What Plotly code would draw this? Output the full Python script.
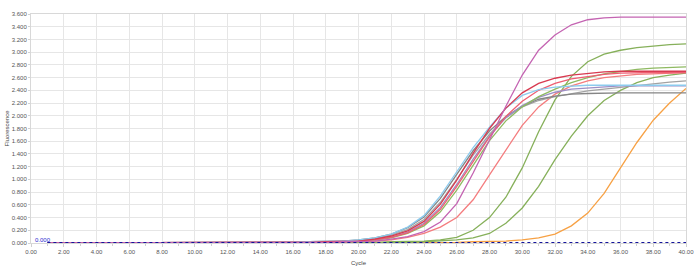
import plotly.graph_objects as go

cycles = list(range(1, 41))

light_blue = [0.00,0.00,0.00,0.00,0.00,0.00,0.00,0.00,0.00,0.00,
              0.00,0.00,0.01,0.01,0.01,0.01,0.02,0.02,0.03,0.05,
              0.08,0.14,0.25,0.43,0.74,1.12,1.50,1.82,2.12,2.32,
              2.41,2.45,2.47,2.48,2.48,2.48,2.48,2.48,2.48,2.48]
gray_dark = [0.00,0.00,0.00,0.00,0.00,0.00,0.00,0.00,0.00,0.00,
             0.00,0.00,0.01,0.01,0.01,0.01,0.02,0.02,0.03,0.05,
             0.08,0.14,0.24,0.41,0.70,1.08,1.45,1.76,1.99,2.15,
             2.26,2.31,2.34,2.35,2.36,2.36,2.36,2.36,2.36,2.36]
gray_light = [0.00,0.00,0.00,0.00,0.00,0.00,0.00,0.00,0.00,0.00,
              0.00,0.00,0.01,0.01,0.01,0.01,0.02,0.02,0.03,0.04,
              0.07,0.12,0.21,0.37,0.64,1.00,1.38,1.71,1.97,2.14,
              2.24,2.30,2.35,2.39,2.42,2.45,2.48,2.51,2.53,2.55]
lavender = [0.00,0.00,0.00,0.00,0.00,0.00,0.00,0.00,0.00,0.00,
            0.00,0.00,0.00,0.01,0.01,0.01,0.01,0.02,0.02,0.03,
            0.05,0.09,0.17,0.31,0.56,0.92,1.32,1.68,1.97,2.16,
            2.29,2.37,2.42,2.44,2.46,2.47,2.47,2.47,2.47,2.47]
crimson = [0.00,0.00,0.00,0.00,0.00,0.00,0.00,0.00,0.00,0.00,
           0.00,0.00,0.00,0.01,0.01,0.01,0.01,0.02,0.02,0.03,
           0.06,0.11,0.19,0.34,0.61,0.99,1.41,1.80,2.12,2.36,
           2.51,2.59,2.64,2.67,2.69,2.70,2.70,2.70,2.70,2.70]
pink_red = [0.00,0.00,0.00,0.00,0.00,0.00,0.00,0.00,0.00,0.00,
            0.00,0.00,0.00,0.01,0.01,0.01,0.01,0.01,0.02,0.03,
            0.05,0.09,0.16,0.29,0.53,0.89,1.29,1.67,1.99,2.23,
            2.40,2.51,2.58,2.62,2.65,2.67,2.68,2.68,2.68,2.68]
salmon = [0.00,0.00,0.00,0.00,0.00,0.00,0.00,0.00,0.00,0.00,
          0.00,0.00,0.00,0.00,0.01,0.01,0.01,0.01,0.02,0.02,
          0.03,0.05,0.09,0.15,0.25,0.40,0.68,1.07,1.46,1.85,
          2.14,2.34,2.47,2.55,2.60,2.63,2.65,2.66,2.67,2.68]
green_b = [0.00,0.00,0.00,0.00,0.00,0.00,0.00,0.00,0.00,0.00,
           0.00,0.00,0.00,0.01,0.01,0.01,0.01,0.01,0.02,0.03,
           0.05,0.08,0.15,0.27,0.49,0.83,1.23,1.61,1.92,2.14,
           2.30,2.42,2.52,2.60,2.66,2.70,2.73,2.75,2.76,2.77]
magenta = [0.00,0.00,0.00,0.00,0.00,0.00,0.00,0.00,0.00,0.00,
           0.00,0.00,0.00,0.00,0.01,0.01,0.01,0.01,0.02,0.02,
           0.03,0.06,0.10,0.18,0.33,0.62,1.10,1.62,2.15,2.64,
           3.03,3.27,3.43,3.51,3.54,3.55,3.55,3.55,3.55,3.55]
green_a = [0.00,0.00,0.00,0.00,0.00,0.00,0.00,0.00,0.00,0.00,
           0.00,0.00,0.00,0.00,0.00,0.00,0.01,0.01,0.01,0.01,
           0.01,0.02,0.02,0.03,0.05,0.09,0.20,0.40,0.72,1.18,
           1.75,2.25,2.62,2.85,2.97,3.03,3.07,3.10,3.12,3.13]
green_c = [0.00,0.00,0.00,0.00,0.00,0.00,0.00,0.00,0.00,0.00,
           0.00,0.00,0.00,0.00,0.00,0.00,0.00,0.01,0.01,0.01,
           0.01,0.01,0.01,0.02,0.03,0.05,0.08,0.15,0.31,0.55,
           0.89,1.31,1.68,2.00,2.24,2.40,2.52,2.60,2.64,2.67]
orange = [0.00,0.00,0.00,0.00,0.00,0.00,0.00,0.00,0.00,0.00,
          0.00,0.00,0.00,0.00,0.00,0.00,0.00,0.00,0.00,0.01,
          0.01,0.01,0.01,0.01,0.01,0.01,0.02,0.02,0.03,0.05,
          0.08,0.14,0.27,0.47,0.78,1.18,1.58,1.93,2.20,2.43]

threshold = 0.0
threshold_label = "0.000"

x_ticks = [0, 2, 4, 6, 8, 10, 12, 14, 16, 18, 20, 22, 24, 26, 28, 30, 32, 34, 36, 38, 40]
x_labels = ["%.2f" % v for v in x_ticks]
y_ticks = [0.0, 0.2, 0.4, 0.6, 0.8, 1.0, 1.2, 1.4, 1.6, 1.8, 2.0, 2.2, 2.4, 2.6, 2.8, 3.0, 3.2, 3.4, 3.6]
y_labels = ["%.3f" % v for v in y_ticks]

series = [
    (orange, "#F7A144"),
    (green_c, "#86B05A"),
    (green_a, "#86B05A"),
    (salmon, "#F47C7E"),
    (gray_light, "#A2A2A2"),
    (gray_dark, "#858585"),
    (lavender, "#9C8FC6"),
    (green_b, "#8FBA62"),
    (pink_red, "#EE5E72"),
    (light_blue, "#8CCBEE"),
    (crimson, "#D83A50"),
    (magenta, "#C464B2"),
]

fig = go.Figure()
for vals, col in series:
    fig.add_trace(go.Scatter(x=cycles, y=vals, mode="lines",
                             line=dict(color=col, width=1.3), showlegend=False))

fig.add_trace(go.Scatter(x=[cycles[0], cycles[-1]], y=[threshold, threshold], mode="lines",
                         line=dict(color="#14149A", width=2, dash="dot"), showlegend=False))

fig.add_annotation(x=0.1, y=threshold, text=threshold_label, showarrow=False,
                   xanchor="left", yanchor="bottom", yshift=-2,
                   font=dict(family="Liberation Sans", size=6, color="#2828D0"))

fig.add_annotation(xref="paper", yref="paper", x=0.5, y=0, yshift=-20, yanchor="middle",
                   text="Cycle", showarrow=False,
                   font=dict(family="Liberation Sans", size=6, color="#444444"))
fig.add_annotation(xref="paper", yref="paper", x=0, xshift=-25, y=0.5, textangle=-90,
                   xanchor="center", yanchor="middle",
                   text="Fluorescence", showarrow=False,
                   font=dict(family="Liberation Sans", size=6, color="#444444"))

fig.update_layout(
    width=700, height=269,
    margin=dict(l=31, r=14, t=14, b=26, autoexpand=False),
    paper_bgcolor="white", plot_bgcolor="white",
    font=dict(family="Liberation Sans", size=6, color="#555555"),
    xaxis=dict(range=[0, 40], tickvals=x_ticks, ticktext=x_labels, automargin=False,
               showgrid=True, gridcolor="#E6E6E6", gridwidth=1,
               showline=True, linecolor="#D8D8D8", mirror=True, zeroline=False,
               ticks="outside", ticklen=3, tickcolor="#D0D0D0",
               minor=dict(dtick=1, tick0=0, ticks="outside", ticklen=2, tickcolor="#D0D0D0", showgrid=False),
               tickfont=dict(size=6, color="#555555")),
    yaxis=dict(range=[0, 3.6], tickvals=y_ticks, ticktext=y_labels, automargin=False,
               showgrid=True, gridcolor="#E6E6E6", gridwidth=1,
               showline=True, linecolor="#D8D8D8", mirror=True, zeroline=False,
               ticks="outside", ticklen=2, tickcolor="#D0D0D0",
               tickfont=dict(size=6, color="#555555")),
)

fig.write_html("out.html")
